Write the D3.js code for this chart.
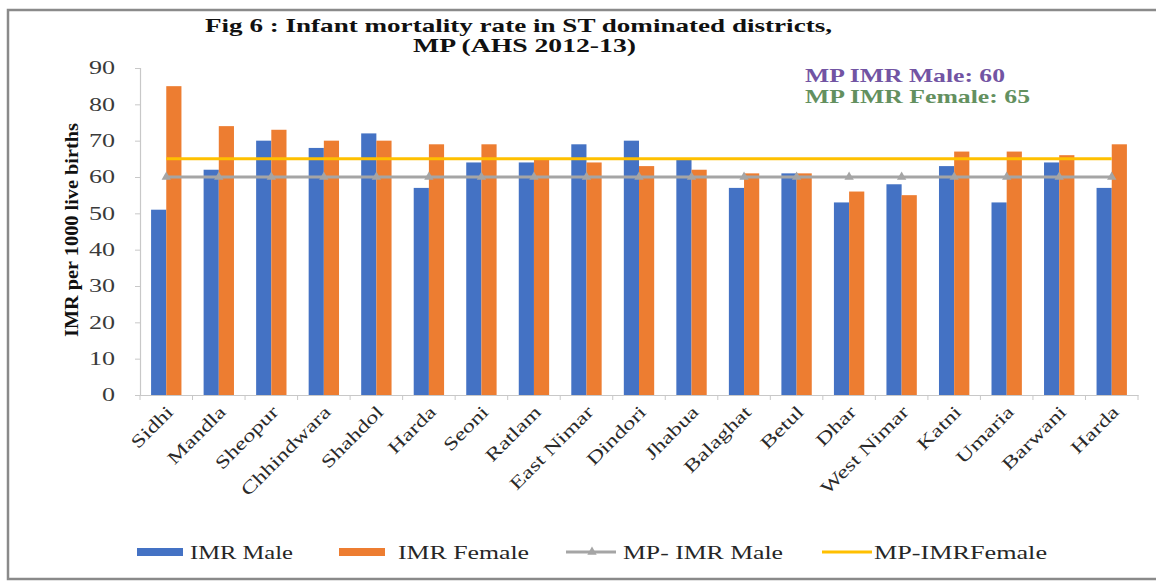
<!DOCTYPE html>
<html>
<head>
<meta charset="utf-8">
<script src="https://cdn.jsdelivr.net/npm/d3@7"></script>
<style>
  html, body { margin: 0; padding: 0; background: #fff; }
  svg { display: block; }
  text { font-family: "Times New Roman", "Liberation Serif", serif; }
</style>
</head>
<body>
<svg id="chart" width="1156" height="582"></svg>
<script>
// District-wise infant mortality rate (per 1000 live births), AHS 2012-13
const districts = ["Sidhi", "Mandla", "Sheopur", "Chhindwara", "Shahdol", "Harda", "Seoni",
  "Ratlam", "East Nimar", "Dindori", "Jhabua", "Balaghat", "Betul", "Dhar", "West Nimar",
  "Katni", "Umaria", "Barwani", "Harda"];
const imrMale   = [51, 62, 70, 68, 72, 57, 64, 64, 69, 70, 65, 57, 61, 53, 58, 63, 53, 64, 57];
const imrFemale = [85, 74, 73, 70, 70, 69, 69, 65, 64, 63, 62, 61, 61, 56, 55, 67, 67, 66, 69];
const mpMale = 60;
const mpFemale = 65;
const yTicks = [0, 10, 20, 30, 40, 50, 60, 70, 80, 90];

const seriesNames = ["IMR Male", "IMR Female", "MP- IMR Male", "MP-IMRFemale"];
const colors = { male: "#4472C4", female: "#ED7D31", mpMale: "#A5A5A5", mpFemale: "#FFC000" };

const svg = d3.select("#chart");

// stretch text horizontally to a target length (or by a factor)
function fitText(sel, opts) {
  sel.each(function () {
    const w = this.getComputedTextLength();
    const target = opts.length != null ? opts.length : w * opts.factor;
    d3.select(this).attr("textLength", target).attr("lengthAdjust", "spacingAndGlyphs");
  });
}

// outer frame
svg.append("rect")
  .attr("x", 8).attr("y", 10).attr("width", 1170).attr("height", 569)
  .attr("fill", "none").attr("stroke", "#8a8a8a").attr("stroke-width", 2.5);

// scales
const idx = districts.map((d, i) => i);
const x = d3.scaleBand().domain(idx).range([140, 1138]).padding(0);
const x1 = d3.scaleBand().domain(["male", "female"]).range([0, x.bandwidth()]).paddingOuter(0.73).paddingInner(0);
const y = d3.scaleLinear().domain([0, 90]).range([395, 68]);

// y axis
const yAxis = svg.append("g").attr("transform", "translate(140,0)")
  .call(d3.axisLeft(y).tickValues(yTicks).tickSize(5).tickPadding(20));
yAxis.attr("font-family", null);
yAxis.select(".domain").attr("stroke", "#c8c8c8").attr("stroke-width", 1.2);
yAxis.selectAll(".tick line").attr("stroke", "#c8c8c8");
yAxis.selectAll(".tick text")
  .attr("font-size", 18).attr("fill", "#3a3a3a")
  .call(fitText, { factor: 1.45 });

// x axis
const xAxis = svg.append("g").attr("transform", "translate(0,395)")
  .call(d3.axisBottom(x).tickSize(0).tickFormat(i => districts[i]));
xAxis.attr("font-family", null);
xAxis.select(".domain").attr("stroke", "#c8c8c8").attr("stroke-width", 1.2);
// category boundary ticks
xAxis.selectAll(".sep").data(d3.range(districts.length + 1)).enter().append("line")
  .attr("class", "sep")
  .attr("x1", i => 140 + i * x.step()).attr("x2", i => 140 + i * x.step())
  .attr("y1", 0).attr("y2", 5).attr("stroke", "#c8c8c8");
xAxis.selectAll(".tick text")
  .attr("font-size", 18).attr("fill", "#2a2a2a")
  .attr("text-anchor", "end")
  .attr("dy", 0)
  .attr("transform", "translate(6,16) rotate(-45)")
  .call(fitText, { factor: 1.35 });

// bars
const groups = svg.append("g").selectAll("g").data(idx).enter().append("g")
  .attr("transform", i => `translate(${x(i)},0)`);
groups.append("rect")
  .attr("x", x1("male")).attr("width", x1.bandwidth())
  .attr("y", i => y(imrMale[i])).attr("height", i => y(0) - y(imrMale[i]))
  .attr("fill", colors.male);
groups.append("rect")
  .attr("x", x1("female")).attr("width", x1.bandwidth())
  .attr("y", i => y(imrFemale[i])).attr("height", i => y(0) - y(imrFemale[i]))
  .attr("fill", colors.female);

// state reference lines
const cx = i => x(i) + x.bandwidth() / 2;
const line = d3.line().x(d => cx(d.i)).y(d => y(d.v));
svg.append("path")
  .datum(idx.map(i => ({ i, v: mpMale })))
  .attr("d", line).attr("fill", "none")
  .attr("stroke", colors.mpMale).attr("stroke-width", 3);
const tri = d3.symbol().type(d3.symbolTriangle).size(38);
svg.append("g").selectAll("path").data(idx).enter().append("path")
  .attr("d", tri)
  .attr("transform", i => `translate(${cx(i)},${y(mpMale)})`)
  .attr("fill", colors.mpMale);
svg.append("path")
  .datum(idx.map(i => ({ i, v: mpFemale })))
  .attr("d", line).attr("fill", "none")
  .attr("stroke", colors.mpFemale).attr("stroke-width", 3);

// title
svg.append("text").attr("x", 205).attr("y", 32)
  .attr("font-size", 19).attr("font-weight", "bold").attr("fill", "#111")
  .text("Fig 6 :  Infant mortality rate in ST dominated districts,")
  .call(fitText, { length: 627 });
svg.append("text").attr("x", 413).attr("y", 52)
  .attr("font-size", 19).attr("font-weight", "bold").attr("fill", "#111")
  .text("MP (AHS 2012-13)")
  .call(fitText, { length: 223 });

// y axis title
svg.append("text")
  .attr("transform", "translate(78,230) rotate(-90)")
  .attr("text-anchor", "middle")
  .attr("font-size", 18).attr("font-weight", "bold").attr("fill", "#111")
  .text("IMR per 1000 live births")
  .call(fitText, { length: 214 });

// state average notes
svg.append("text").attr("x", 805).attr("y", 82)
  .attr("font-size", 19).attr("font-weight", "bold").attr("fill", "#7254a3")
  .text(`MP IMR Male: ${mpMale}`)
  .call(fitText, { length: 200 });
svg.append("text").attr("x", 805).attr("y", 103)
  .attr("font-size", 19).attr("font-weight", "bold").attr("fill", "#63905f")
  .text(`MP IMR Female: ${mpFemale}`)
  .call(fitText, { length: 225 });

// legend
const legendItems = [
  { name: seriesNames[0], kind: "rect", color: colors.male,   kx: 137, tx: 190, tl: 103 },
  { name: seriesNames[1], kind: "rect", color: colors.female, kx: 339, tx: 398, tl: 131 },
  { name: seriesNames[2], kind: "mark", color: colors.mpMale, kx: 566, tx: 623, tl: 160 },
  { name: seriesNames[3], kind: "line", color: colors.mpFemale, kx: 822, tx: 874, tl: 173 }
];
const ly = 552;
const lg = svg.append("g").selectAll("g").data(legendItems).enter().append("g");
lg.filter(d => d.kind === "rect").append("rect")
  .attr("x", d => d.kx).attr("y", ly - 4).attr("width", 46).attr("height", 8)
  .attr("fill", d => d.color);
lg.filter(d => d.kind !== "rect").append("line")
  .attr("x1", d => d.kx).attr("x2", d => d.kx + 50)
  .attr("y1", ly).attr("y2", ly)
  .attr("stroke", d => d.color).attr("stroke-width", 3);
lg.filter(d => d.kind === "mark").append("path")
  .attr("d", tri).attr("transform", d => `translate(${d.kx + 26},${ly})`)
  .attr("fill", d => d.color);
lg.append("text")
  .attr("x", d => d.tx).attr("y", ly + 7)
  .attr("font-size", 19).attr("fill", "#262626")
  .text(d => d.name)
  .each(function (d) { fitText(d3.select(this), { length: d.tl }); });
</script>
</body>
</html>
